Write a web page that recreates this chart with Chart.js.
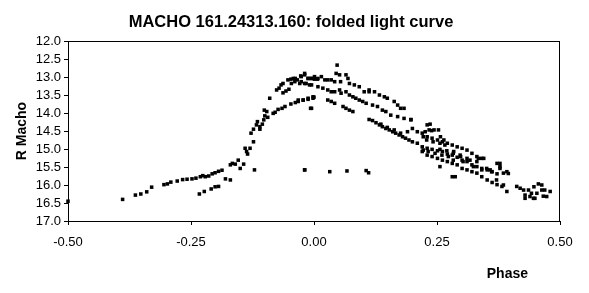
<!DOCTYPE html>
<html>
<head>
<meta charset="utf-8">
<script src="https://cdn.jsdelivr.net/npm/chart.js@4/dist/chart.umd.min.js"></script>
<style>
  html, body { margin: 0; padding: 0; background: #fff; }
  #wrap { width: 589px; height: 293px; }
</style>
</head>
<body>
<div id="wrap"><canvas id="lightcurve"></canvas></div>
<script>
// phase / R magnitude pairs
const phase = [
  -0.500, -0.389, -0.363, -0.352, -0.340, -0.330, -0.305, -0.298, -0.291, -0.278,
  -0.267, -0.258, -0.248, -0.240, -0.231, -0.226, -0.221, -0.214, -0.207, -0.201,
  -0.194, -0.187, -0.233, -0.223, -0.209, -0.201, -0.194, -0.180, -0.170, -0.170,
  -0.166, -0.160, -0.154, -0.150, -0.143, -0.140, -0.137, -0.135, -0.130, -0.121,
  -0.128, -0.123, -0.123, -0.117, -0.115, -0.110, -0.110, -0.105, -0.102, -0.100,
  -0.101, -0.096, -0.094, -0.090, -0.083, -0.079, -0.076, -0.071, -0.067, -0.063,
  -0.073, -0.065, -0.059, -0.053, -0.047, -0.042, -0.038, -0.034, -0.027, -0.019,
  -0.063, -0.057, -0.051, -0.046, -0.039, -0.029, -0.019, -0.009, -0.012, -0.005,
  0.001, 0.007, -0.047, -0.038, -0.032, -0.022, -0.012, -0.002, -0.007, 0.000,
  -0.019,
  -0.026, -0.019, -0.012, -0.005, 0.001, 0.008, 0.015, 0.022, 0.028, 0.035,
  0.042, 0.047, 0.045, 0.052, 0.054, 0.065, 0.069, 0.072, 0.082, 0.092,
  0.102, 0.112, 0.123, 0.133, 0.143, 0.149, 0.163, 0.170, 0.176, 0.183,
  -0.026, -0.016, -0.005, 0.008, 0.018, 0.028, 0.035, 0.042, 0.052, 0.055,
  0.065, 0.072, 0.079, 0.085, 0.092, 0.099, 0.106, 0.112, 0.119, 0.129,
  0.139, 0.146, 0.156, 0.170, 0.183, 0.197,
  -0.032, -0.022, -0.012, -0.002, -0.005, 0.028, 0.035, 0.042, 0.059, 0.065,
  0.072, 0.079, 0.112, 0.119, 0.126, 0.133, 0.139, 0.146, 0.153, 0.160,
  0.166, 0.173, 0.180, 0.186, 0.193, 0.136, 0.149, 0.163, 0.176, 0.190,
  0.197,
  0.200, 0.210, 0.220, 0.230, 0.240, 0.251, 0.261, 0.271, 0.281, 0.291,
  0.301, 0.311, 0.321, 0.331, 0.341, 0.230, 0.234, 0.244, 0.257, 0.264,
  0.372, 0.378, 0.385, 0.392,
  0.200, 0.210, 0.220, 0.230, 0.240, 0.251, 0.261, 0.271, 0.281, 0.291,
  0.301, 0.311, 0.321, 0.331, 0.341, 0.352, 0.362, 0.372,
  0.220, 0.230, 0.240, 0.251, 0.261, 0.271, 0.281, 0.291, 0.301, 0.311,
  0.321, 0.331, 0.341, 0.352, 0.362, 0.372, 0.382, 0.256, 0.281, 0.392,
  0.412, 0.419, 0.426, 0.429, 0.436, 0.439, 0.442, 0.446, 0.447, 0.453,
  0.456, 0.463, 0.466, 0.469,
  0.284, 0.298, 0.311, 0.331, 0.345, 0.358, 0.378,
  -0.019, 0.032, 0.067, 0.106, 0.111,
  0.236, 0.226, 0.239, 0.253, 0.222, 0.229, 0.242, 0.256, 0.266, 0.222,
  0.232, 0.246, 0.260, 0.273, 0.256, 0.270, 0.283, 0.297, 0.283, 0.303,
  0.317, 0.334, 0.324, 0.341, 0.351, 0.361, 0.378, 0.287, 0.395, 0.371,
  0.385, 0.429, 0.449, 0.473, 0.480, 0.463
];

const rMag = [
  16.45, 16.40, 16.28, 16.25, 16.19, 16.06, 15.99, 15.97, 15.92, 15.89,
  15.85, 15.84, 15.83, 15.81, 15.77, 15.74, 15.77, 15.75, 15.69, 15.66,
  15.62, 15.59, 16.25, 16.18, 16.11, 16.05, 16.04, 15.83, 15.86, 15.44,
  15.40, 15.42, 15.31, 15.54, 15.42, 14.98, 15.07, 15.14, 14.98, 15.58,
  14.56, 14.45, 14.80, 14.33, 14.24, 14.38, 14.45, 14.31, 14.19, 14.08,
  13.92, 13.96, 14.12, 13.59, 14.01, 13.98, 13.36, 13.31, 13.22, 13.18,
  13.90, 13.87, 13.82, 13.08, 13.06, 13.04, 13.04, 13.08, 12.97, 12.90,
  13.44, 13.39, 13.34, 13.18, 13.13, 13.18, 13.18, 13.22, 13.04, 13.04,
  13.06, 13.06, 13.75, 13.71, 13.68, 13.64, 13.62, 13.59, 13.87, 13.56,
  15.58,
  12.99, 12.94, 13.04, 13.04, 12.99, 13.04, 12.99, 13.08, 13.08, 13.08,
  13.13, 12.67, 12.90, 12.94, 13.13, 12.94, 13.04, 13.18, 13.22, 13.27,
  13.41, 13.36, 13.41, 13.50, 13.55, 13.59, 13.68, 13.78, 13.87, 13.87,
  13.13, 13.18, 13.22, 13.27, 13.31, 13.36, 13.41, 13.41, 13.36, 13.45,
  13.41, 13.50, 13.55, 13.59, 13.64, 13.68, 13.73, 13.41, 13.78, 13.82,
  13.92, 13.96, 14.06, 14.10, 14.15, 14.19,
  13.64, 13.64, 13.59, 13.55, 13.87, 13.64, 13.68, 13.73, 13.82, 13.87,
  13.92, 13.96, 14.18, 14.21, 14.27, 14.33, 14.38, 14.43, 14.47, 14.52,
  14.56, 14.61, 14.66, 14.70, 14.75, 14.31, 14.40, 14.47, 14.56, 14.52,
  14.18,
  14.43, 14.52, 14.56, 14.66, 14.70, 14.75, 14.80, 14.84, 14.89, 14.94,
  14.98, 15.03, 15.12, 15.21, 15.26, 14.33, 14.47, 14.47, 14.66, 14.75,
  15.40, 15.49, 15.67, 15.63,
  14.80, 14.84, 14.94, 14.98, 15.01, 15.05, 15.07, 15.14, 15.17, 15.23,
  15.31, 15.35, 15.44, 15.49, 15.54, 15.58, 15.63, 15.69,
  15.07, 15.17, 15.21, 15.26, 15.31, 15.35, 15.40, 15.44, 15.54, 15.58,
  15.63, 15.67, 15.77, 15.86, 15.93, 15.99, 16.04, 15.49, 15.77, 16.18,
  16.04, 16.09, 16.14, 16.28, 16.14, 16.32, 16.23, 16.37, 16.05, 16.23,
  15.97, 16.14, 16.31, 16.14,
  15.07, 15.21, 15.26, 15.35, 15.26, 15.58, 15.54,
  15.58, 15.63, 15.61, 15.60, 15.66,
  14.31, 14.52, 14.49, 14.47, 14.66, 14.75, 14.80, 14.84, 14.89, 15.03,
  15.07, 15.12, 15.17, 15.21, 15.01, 15.05, 15.12, 15.17, 15.31, 15.35,
  15.31, 15.26, 15.49, 15.58, 15.54, 15.63, 15.40, 15.77, 15.68, 15.86,
  16.00, 16.37, 16.37, 16.32, 16.18, 16.00
];

const phaseTicks = [-0.5, -0.25, 0, 0.25, 0.5];
const magTicks = [12, 12.5, 13, 13.5, 14, 14.5, 15, 15.5, 16, 16.5, 17];

const chartTitle = 'MACHO 161.24313.160: folded light curve';
const points = phase.map((p, i) => ({ x: p, y: rMag[i] }));

// plot frame, title and the "Phase" label, placed like the original
const frameAndLabels = {
  id: 'frameAndLabels',
  afterDraw(chart) {
    const { ctx, chartArea: a } = chart;
    ctx.save();
    ctx.strokeStyle = '#000';
    ctx.lineWidth = 1;
    ctx.strokeRect(Math.round(a.left) + 0.5, Math.round(a.top) + 0.5,
      Math.round(a.right - a.left) - 1, Math.round(a.bottom - a.top));
    ctx.fillStyle = '#000';
    ctx.textBaseline = 'middle';
    ctx.font = 'bold 16.5px "Liberation Sans", Arial, sans-serif';
    ctx.textAlign = 'center';
    ctx.fillText(chartTitle, 291, 22);
    ctx.font = 'bold 14px "Liberation Sans", Arial, sans-serif';
    ctx.textAlign = 'right';
    ctx.fillText('Phase', a.right - 32, 274);
    ctx.restore();
  }
};

const config_lightcurve = {
  type: 'scatter',
  data: {
    datasets: [{
      label: 'R Macho',
      data: points,
      clip: false,
      pointStyle: 'rect',
      pointRadius: 2.5,
      pointBorderWidth: 0,
      backgroundColor: '#000',
      borderColor: '#000'
    }]
  },
  options: {
    responsive: true,
    maintainAspectRatio: false,
    animation: false,
    layout: { padding: { left: 0, right: 29, top: 41, bottom: 0 } },
    plugins: {
      legend: { display: false },
      tooltip: { enabled: false },
      title: { display: false }
    },
    scales: {
      x: {
        type: 'linear',
        min: -0.5,
        max: 0.5,
        afterBuildTicks(scale) { scale.ticks = phaseTicks.map(v => ({ value: v })); },
        afterFit(scale) { scale.height = 72; },
        grid: { drawOnChartArea: false, color: '#000', tickLength: 4 },
        border: { color: '#000' },
        ticks: {
          color: '#000',
          padding: 10,
          maxRotation: 0,
          autoSkip: false,
          font: { family: '"Liberation Sans", Arial, sans-serif', size: 13 },
          callback: v => v.toFixed(2)
        }
      },
      y: {
        type: 'linear',
        reverse: true,
        min: 12,
        max: 17,
        afterBuildTicks(scale) { scale.ticks = magTicks.map(v => ({ value: v })); },
        afterFit(scale) { scale.width = 68; },
        grid: { drawOnChartArea: false, color: '#000', tickLength: 4 },
        border: { color: '#000' },
        title: {
          display: true,
          text: 'R Macho',
          color: '#000',
          font: { family: '"Liberation Sans", Arial, sans-serif', size: 14, weight: 'bold' },
          padding: { top: 14, bottom: 0 }
        },
        ticks: {
          color: '#000',
          padding: 3,
          autoSkip: false,
          font: { family: '"Liberation Sans", Arial, sans-serif', size: 13 },
          callback: v => v.toFixed(1)
        }
      }
    }
  },
  plugins: [frameAndLabels]
};

const ctx_lightcurve = document.getElementById('lightcurve').getContext('2d');
const chart_lightcurve = new Chart(ctx_lightcurve, config_lightcurve);
</script>
</body>
</html>
